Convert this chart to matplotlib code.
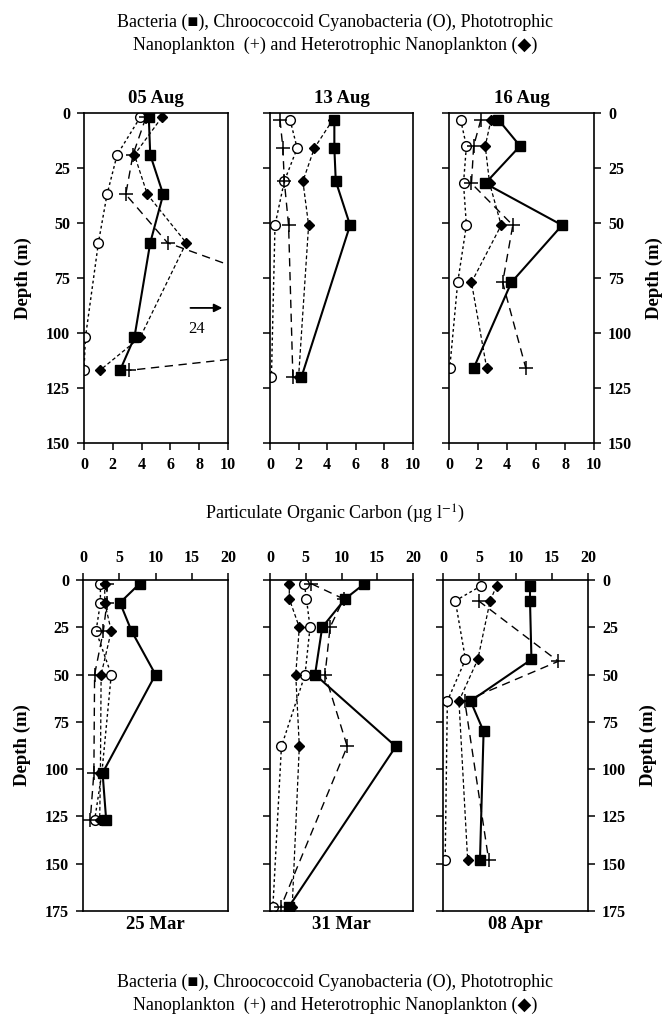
import matplotlib
matplotlib.use("Agg")
import matplotlib.pyplot as plt  # noqa: E402

SERIF = ["Liberation Serif", "DejaVu Serif"]
plt.rcParams.update({"font.family": SERIF, "font.size": 10,
                     "mathtext.fontset": "stix", "axes.linewidth": 1.2})

W, H = 670, 1024

# ---- data (POC, ug/l  vs depth, m) ----
# 05 Aug
aug05_depth = [2, 19, 37, 59, 102, 117]
aug05_bact = [4.5, 4.6, 5.5, 4.6, 3.5, 2.5]
aug05_cyano = [3.9, 2.3, 1.6, 1.0, 0.1, 0.0]
aug05_photo = [4.3, 3.4, 2.9, 5.8, 24.0, 3.1]
aug05_hetero = [5.4, 3.5, 4.4, 7.1, 3.9, 1.1]
# 13 Aug
aug13_depth = [3, 16, 31, 51, 120]
aug13_bact = [4.5, 4.5, 4.6, 5.6, 2.2]
aug13_cyano = [1.4, 1.9, 1.0, 0.35, 0.1]
aug13_photo = [0.7, 0.9, 1.0, 1.3, 1.6]
aug13_hetero = [4.4, 3.1, 2.3, 2.7, 2.0]
# 16 Aug
aug16_depth = [3, 15, 32, 51, 77, 116]
aug16_bact = [3.4, 4.9, 2.5, 7.8, 4.3, 1.7]
aug16_cyano = [0.8, 1.2, 1.0, 1.2, 0.6, 0.05]
aug16_photo = [2.2, 1.7, 1.55, 4.4, 3.7, 5.3]
aug16_hetero = [2.9, 2.5, 2.8, 3.6, 1.55, 2.6]
# 25 Mar
mar25_depth = [2, 12, 27, 50, 102, 127]
mar25_bact = [7.8, 5.1, 6.7, 10.0, 2.7, 3.2]
mar25_cyano = [2.4, 2.4, 1.8, 3.9, 2.6, 1.6]
mar25_photo = [3.3, 3.3, 2.8, 1.6, 1.5, 1.0]
mar25_hetero = [3.0, 3.0, 3.9, 2.5, 2.4, 2.3]
# 31 Mar
mar31_depth = [2, 10, 25, 50, 88, 173]
mar31_bact = [13.2, 10.5, 7.3, 6.3, 17.6, 2.6]
mar31_cyano = [4.8, 5.1, 5.6, 4.9, 1.6, 0.4]
mar31_photo = [5.8, 10.3, 8.4, 7.7, 10.8, 1.5]
mar31_hetero = [2.7, 2.7, 4.1, 3.6, 4.1, 3.1]
# 08 Apr
apr08_depth = [3, 11, 42, 64, 80, 148]
apr08_bact = [12.0, 12.0, 12.2, 3.8, 5.6, 5.1]
apr08_cyano_depth = [3, 11, 42, 64, 148]
apr08_cyano = [5.3, 1.7, 3.1, 0.6, 0.3]
apr08_photo_depth = [11, 43, 64, 148]
apr08_photo = [4.9, 15.9, 3.0, 6.3]
apr08_hetero_depth = [3, 11, 42, 64, 148]
apr08_hetero = [7.4, 6.5, 4.8, 2.2, 3.4]

panels = [
    ("05 Aug", [(aug05_depth, aug05_cyano), (aug05_depth, aug05_photo),
                (aug05_depth, aug05_hetero), (aug05_depth, aug05_bact)]),
    ("13 Aug", [(aug13_depth, aug13_cyano), (aug13_depth, aug13_photo),
                (aug13_depth, aug13_hetero), (aug13_depth, aug13_bact)]),
    ("16 Aug", [(aug16_depth, aug16_cyano), (aug16_depth, aug16_photo),
                (aug16_depth, aug16_hetero), (aug16_depth, aug16_bact)]),
    ("25 Mar", [(mar25_depth, mar25_cyano), (mar25_depth, mar25_photo),
                (mar25_depth, mar25_hetero), (mar25_depth, mar25_bact)]),
    ("31 Mar", [(mar31_depth, mar31_cyano), (mar31_depth, mar31_photo),
                (mar31_depth, mar31_hetero), (mar31_depth, mar31_bact)]),
    ("08 Apr", [(apr08_cyano_depth, apr08_cyano), (apr08_photo_depth, apr08_photo),
                (apr08_hetero_depth, apr08_hetero), (apr08_depth, apr08_bact)]),
]

# cyano, photo, hetero, bacteria
styles = [
    dict(marker="o", ms=7, mfc="white", mec="k", mew=1.0, ls=(0, (2, 2)), lw=1.0),
    dict(marker="+", ms=10, mew=1.1, ls=(0, (6, 4)), lw=1.0),
    dict(marker="D", ms=5.5, ls=(0, (3, 2)), lw=0.9),
    dict(marker="s", ms=7.5, ls="-", lw=1.5),
]

# pixel boxes: left, right, top, bottom
boxes = [(84, 228, 113, 443), (270, 413, 113, 443), (449, 594, 113, 443),
         (83, 228, 580, 911), (270, 413, 580, 911), (443, 588, 580, 911)]

fig = plt.figure(figsize=(W / 100, H / 100), dpi=100)

for i, ((title, series), (l, r, t, b)) in enumerate(zip(panels, boxes)):
    ax = fig.add_axes([l / W, 1 - b / H, (r - l) / W, (b - t) / H])
    for (d, v), st in zip(series, styles):
        ax.plot(v, d, color="k", **st)
    top = i < 3
    ax.tick_params(direction="out", length=5, width=1.1, labelsize=11.5, pad=5)
    if top:
        ax.set_xlim(0, 10)
        ax.set_ylim(150, 0)
        ax.set_xticks(range(0, 11, 2))
        ax.set_yticks(range(0, 151, 25))
        ax.set_title(title, fontsize=13.5, fontweight="bold", pad=7)
    else:
        ax.set_xlim(0, 20)
        ax.set_ylim(175, 0)
        ax.set_xticks(range(0, 21, 5))
        ax.set_yticks(range(0, 176, 25))
        ax.xaxis.tick_top()
        ax.text(0.5, -0.015, title, transform=ax.transAxes, ha="center", va="top",
                fontsize=13.5, fontweight="bold")
    col = i % 3
    if col == 2:
        ax.yaxis.set_ticks_position("both")
        ax.tick_params(axis="y", labelleft=False, labelright=True)
        ax.yaxis.set_label_position("right")
        ax.set_ylabel("Depth (m)", fontsize=13.5, fontweight="bold", labelpad=10)
    elif col == 1:
        ax.tick_params(axis="y", labelleft=False)
    else:
        ax.set_ylabel("Depth (m)", fontsize=13.5, fontweight="bold", labelpad=10)
    for lab in ax.get_xticklabels() + ax.get_yticklabels():
        lab.set_fontweight("bold")
    if i == 0:
        ax.annotate("", xy=(9.8, 88.6), xytext=(7.2, 88.6),
                    arrowprops=dict(arrowstyle="-|>", color="k", lw=1.3,
                                    mutation_scale=12))
        ax.text(7.8, 98, "24", ha="center", va="center", fontsize=12)

legend_txt = ("Bacteria (\u25a0), Chroococcoid Cyanobacteria (O), Phototrophic\n"
              "Nanoplankton  (+) and Heterotrophic Nanoplankton (\u25c6)")
fig.text(0.5, 1 - 34 / H, legend_txt, ha="center", va="center", fontsize=13,
         linespacing=1.45)
fig.text(0.5, 1 - 994 / H, legend_txt, ha="center", va="center", fontsize=13,
         linespacing=1.45)
fig.text(0.5, 1 - 514 / H, "Particulate Organic Carbon (\u00b5g l$^{-1}$)",
         ha="center", va="center", fontsize=13)

fig.savefig("out.png", dpi=100)
